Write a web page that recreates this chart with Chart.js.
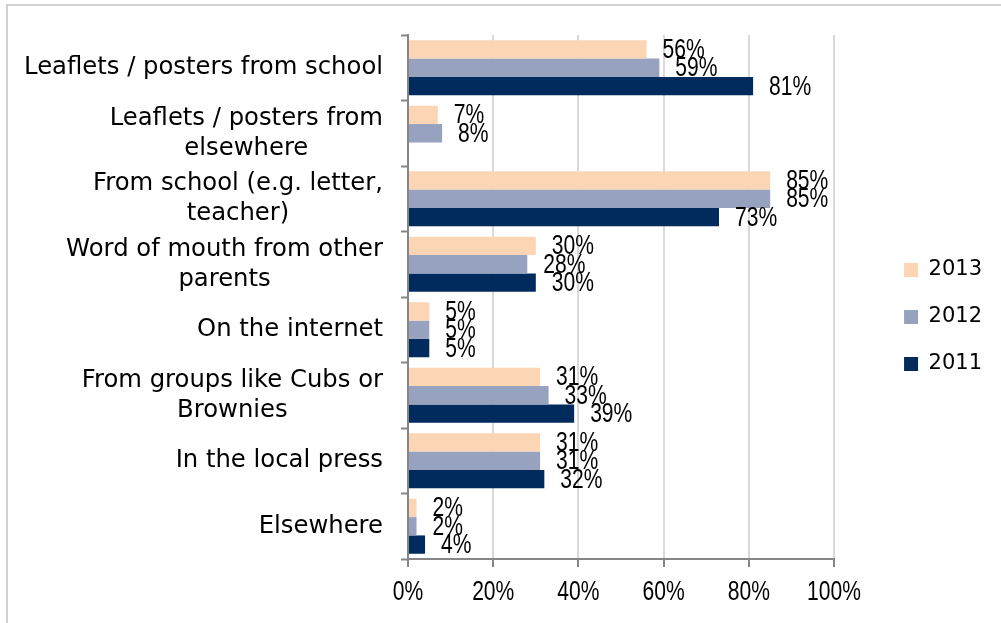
<!DOCTYPE html>
<html>
<head>
<meta charset="utf-8">
<title>Where parents heard about it</title>
<script src="https://cdn.jsdelivr.net/npm/chart.js@4.4.1/dist/chart.umd.min.js"></script>
<style>
  html, body { margin: 0; padding: 0; background: #fff; }
  #wrap { position: relative; width: 1001px; height: 623px; overflow: hidden; }
  #frame { position: absolute; left: 6px; top: 4px; right: -10px; bottom: -10px;
           border-top: 2px solid #d0d0d0; border-left: 2px solid #d0d0d0; }
  #chart { position: absolute; left: 0; top: 0; }
</style>
</head>
<body>
<div id="wrap">
  <div id="frame"></div>
  <canvas id="chart" width="1001" height="623"></canvas>
</div>
<script>
// Categories (each entry is the list of lines shown on the axis)
const categories = [
    ['Leaflets / posters from school'],
    ['Leaflets / posters from', 'elsewhere'],
    ['From school (e.g. letter,', 'teacher)'],
    ['Word of mouth from other', 'parents'],
    ['On the internet'],
    ['From groups like Cubs or', 'Brownies'],
    ['In the local press'],
    ['Elsewhere']
];

const years = ['2013', '2012', '2011'];

// Percentages per year (null = not asked that year)
const values2013 = [56, 7, 85, 30, 5, 31, 31, 2];
const values2012 = [59, 8, 85, 28, 5, 33, 31, 2];
const values2011 = [81, null, 73, 30, 5, 39, 32, 4];

const xTicks = [0, 20, 40, 60, 80, 100];

const labelFont = '"DejaVu Sans", Tahoma, sans-serif';
const numberFont = '"Liberation Sans", Arial, sans-serif';

// draw text squeezed horizontally (no narrow face installed)
function narrowText(ctx, text, x, y, squeeze) {
    ctx.save();
    ctx.translate(x, y);
    ctx.scale(squeeze, 1);
    ctx.fillText(text, 0, 0);
    ctx.restore();
}

// Category names: right aligned block, lines centred on each other.
// Percent tick labels under the x axis.
const axisLabels = {
    id: 'axisLabels',
    afterDraw(chart) {
        const yScale = chart.scales.y;
        const xScale = chart.scales.x;
        const ctx = chart.ctx;
        ctx.save();
        ctx.fillStyle = '#000';
        ctx.textAlign = 'center';
        ctx.textBaseline = 'middle';

        ctx.font = '24.3px ' + labelFont;
        const right = yScale.right - 25;
        categories.forEach((lines, i) => {
            const w = Math.max(...lines.map(l => ctx.measureText(l).width));
            const cx = right - w / 2;
            const cy = yScale.getPixelForValue(i);
            lines.forEach((line, j) => {
                ctx.fillText(line, cx, cy + (j - (lines.length - 1) / 2) * 30);
            });
        });

        ctx.font = '27px ' + numberFont;
        xTicks.forEach(v => {
            narrowText(ctx, v + '%', xScale.getPixelForValue(v), xScale.top + 34, 0.78);
        });
        ctx.restore();
    }
};

// Value labels just past the end of each bar
const valueLabels = {
    id: 'valueLabels',
    afterDatasetsDraw(chart) {
        const ctx = chart.ctx;
        ctx.save();
        ctx.font = '27px ' + numberFont;
        ctx.fillStyle = '#000';
        ctx.textAlign = 'left';
        ctx.textBaseline = 'middle';
        chart.data.datasets.forEach((ds, di) => {
            const meta = chart.getDatasetMeta(di);
            meta.data.forEach((bar, i) => {
                const v = ds.data[i];
                if (v === null || v === undefined) return;
                narrowText(ctx, v + '%', bar.x + 16, bar.y + 1, 0.78);
            });
        });
        ctx.restore();
    }
};

// Push the legend a bit away from the plot
const legendOffset = {
    id: 'legendOffset',
    afterLayout(chart) {
        const lg = chart.legend;
        if (!lg) return;
        lg.left += 44;
        lg.right += 44;
        lg.top -= 12;
        lg.bottom -= 12;
    }
};

const ctx = document.getElementById('chart').getContext('2d');

new Chart(ctx, {
    type: 'bar',
    data: {
        labels: categories.map(c => c.join(' ')),
        datasets: [
            {
                label: years[0],
                data: values2013,
                backgroundColor: '#FCD5B5',
                borderWidth: 0
            },
            {
                label: years[1],
                data: values2012,
                backgroundColor: '#97A2BE',
                borderWidth: 0
            },
            {
                label: years[2],
                data: values2011,
                backgroundColor: '#002B5C',
                borderWidth: 0
            }
        ]
    },
    options: {
        indexAxis: 'y',
        responsive: false,
        animation: false,
        devicePixelRatio: 1,
        categoryPercentage: 0.84,
        barPercentage: 1.0,
        layout: {
            padding: { top: 35, left: 0, right: 53, bottom: 0 }
        },
        plugins: {
            legend: {
                position: 'right',
                labels: {
                    boxWidth: 14,
                    boxHeight: 14,
                    padding: 26,
                    color: '#000',
                    font: { family: labelFont, size: 21 }
                }
            },
            tooltip: { enabled: false }
        },
        scales: {
            x: {
                min: 0,
                max: 100,
                grid: {
                    color: '#d9d9d9',
                    lineWidth: 2,
                    tickColor: '#868686',
                    tickWidth: 2,
                    tickLength: 8
                },
                border: { color: '#868686', width: 2 },
                ticks: {
                    color: 'rgba(0,0,0,0)',
                    padding: 9,
                    maxRotation: 0,
                    font: { family: numberFont, size: 22 },
                    callback: v => v + '%'
                },
                afterBuildTicks: s => { s.ticks = xTicks.map(v => ({ value: v })); },
                afterFit: s => { s.height = 64; }
            },
            y: {
                grid: {
                    offset: true,
                    drawOnChartArea: false,
                    tickColor: '#868686',
                    tickWidth: 2,
                    tickLength: 7
                },
                border: { color: '#868686', width: 2 },
                ticks: { display: false },
                afterFit: s => { s.width = 408; }
            }
        }
    },
    plugins: [valueLabels, axisLabels, legendOffset]
});
</script>
</body>
</html>
